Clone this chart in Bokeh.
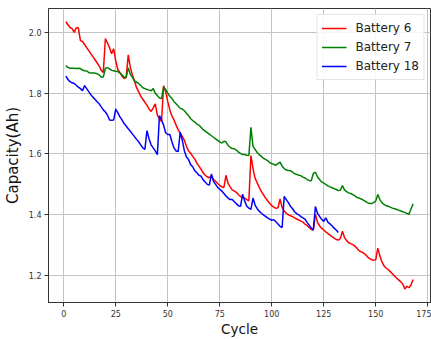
from bokeh.plotting import figure
from bokeh.models import FixedTicker, Legend, LegendItem, Range1d, NumeralTickFormatter
from bokeh.embed import file_html
from bokeh.resources import INLINE

battery6 = [
    2.035, 2.025, 2.016, 2.012, 2.000, 2.015, 2.015, 1.973, 1.970, 1.960,
    1.950, 1.940, 1.930, 1.920, 1.910, 1.900, 1.890, 1.875, 1.868, 1.980,
    1.965, 1.950, 1.930, 1.946, 1.905, 1.878, 1.868, 1.856, 1.848, 1.852,
    1.926, 1.885, 1.860, 1.840, 1.818, 1.805, 1.790, 1.780, 1.770, 1.760,
    1.748, 1.740, 1.752, 1.765, 1.728, 1.715, 1.707, 1.824, 1.805, 1.772,
    1.745, 1.725, 1.712, 1.695, 1.680, 1.668, 1.658, 1.645, 1.625, 1.610,
    1.603, 1.592, 1.583, 1.570, 1.560, 1.550, 1.538, 1.530, 1.525, 1.522,
    1.528, 1.516, 1.510, 1.503, 1.497, 1.492, 1.490, 1.530, 1.503, 1.492,
    1.482, 1.478, 1.474, 1.466, 1.460, 1.457, 1.455, 1.450, 1.446, 1.595,
    1.552, 1.520, 1.505, 1.490, 1.477, 1.466, 1.455, 1.446, 1.438, 1.430,
    1.425, 1.421, 1.423, 1.452, 1.424, 1.412, 1.405, 1.400, 1.397, 1.394,
    1.390, 1.386, 1.383, 1.379, 1.376, 1.369, 1.365, 1.358, 1.352, 1.350,
    1.402, 1.375, 1.364, 1.356, 1.350, 1.344, 1.339, 1.333, 1.328, 1.323,
    1.319, 1.317, 1.322, 1.346, 1.325, 1.315, 1.308, 1.305, 1.302, 1.297,
    1.290, 1.282, 1.278, 1.275, 1.270, 1.262, 1.256, 1.253, 1.250, 1.252,
    1.290, 1.265, 1.245, 1.232, 1.225, 1.220, 1.213, 1.206, 1.199, 1.192,
    1.186, 1.180, 1.172, 1.156, 1.165, 1.160, 1.170, 1.187,
]

battery7 = [
    1.891, 1.885, 1.882, 1.882, 1.882, 1.881, 1.882, 1.881, 1.876, 1.874,
    1.873, 1.868, 1.866, 1.866, 1.866, 1.864, 1.860, 1.853, 1.853, 1.882,
    1.884, 1.880, 1.875, 1.874, 1.872, 1.871, 1.866, 1.860, 1.853, 1.852,
    1.883, 1.862, 1.852, 1.840, 1.836, 1.832, 1.825, 1.818, 1.815, 1.812,
    1.810, 1.808, 1.815, 1.800, 1.792, 1.784, 1.782, 1.820, 1.812, 1.800,
    1.790, 1.783, 1.772, 1.765, 1.758, 1.750, 1.748, 1.742, 1.734, 1.726,
    1.716, 1.710, 1.705, 1.698, 1.695, 1.688, 1.680, 1.675, 1.670, 1.665,
    1.660, 1.655, 1.650, 1.645, 1.640, 1.636, 1.642, 1.640, 1.628, 1.622,
    1.618, 1.617, 1.613, 1.606, 1.602, 1.598, 1.598, 1.596, 1.595, 1.688,
    1.625, 1.615, 1.605, 1.598, 1.592, 1.586, 1.582, 1.578, 1.572, 1.568,
    1.566, 1.563, 1.568, 1.573, 1.560, 1.552, 1.547, 1.546, 1.545, 1.540,
    1.535, 1.533, 1.530, 1.529, 1.524, 1.521, 1.516, 1.513, 1.512, 1.536,
    1.540, 1.525, 1.516, 1.508, 1.504, 1.500, 1.495, 1.492, 1.489, 1.486,
    1.483, 1.480, 1.481, 1.496, 1.482, 1.476, 1.472, 1.470, 1.466, 1.462,
    1.457, 1.455, 1.452, 1.448, 1.444, 1.440, 1.437, 1.437, 1.440, 1.445,
    1.467, 1.450, 1.440, 1.434, 1.430, 1.428, 1.425, 1.422, 1.420, 1.418,
    1.415, 1.413, 1.410, 1.408, 1.404, 1.402, 1.420, 1.436,
]

battery18 = [
    1.856, 1.845, 1.838, 1.834, 1.832, 1.826, 1.820, 1.815, 1.808, 1.825,
    1.815, 1.805, 1.795, 1.787, 1.780, 1.772, 1.765, 1.755, 1.745, 1.738,
    1.728, 1.712, 1.711, 1.712, 1.748, 1.735, 1.722, 1.712, 1.700, 1.692,
    1.683, 1.675, 1.666, 1.657, 1.648, 1.640, 1.630, 1.620, 1.615, 1.677,
    1.650, 1.630, 1.620, 1.610, 1.598, 1.726, 1.712, 1.695, 1.670, 1.664,
    1.664, 1.640, 1.620, 1.610, 1.608, 1.672, 1.645, 1.610, 1.590, 1.582,
    1.565, 1.558, 1.545, 1.538, 1.530, 1.527, 1.515, 1.508, 1.500, 1.498,
    1.534, 1.510, 1.500, 1.490, 1.484, 1.478, 1.470, 1.462, 1.455, 1.450,
    1.450, 1.443, 1.436, 1.430, 1.428, 1.468, 1.445, 1.428, 1.422, 1.418,
    1.455, 1.432, 1.420, 1.412, 1.405, 1.400, 1.395, 1.390, 1.386, 1.382,
    1.384, 1.377, 1.370, 1.362, 1.358, 1.460, 1.450, 1.440, 1.428, 1.420,
    1.410, 1.404, 1.400, 1.394, 1.390, 1.386, 1.375, 1.366, 1.356, 1.350,
    1.427, 1.405, 1.395, 1.385, 1.378, 1.390, 1.376, 1.370, 1.364, 1.356,
    1.350, 1.342,
]

cycles6 = list(range(1, len(battery6) + 1))
cycles7 = list(range(1, len(battery7) + 1))
cycles18 = list(range(1, len(battery18) + 1))

series_names = ["Battery 6", "Battery 7", "Battery 18"]
series_colors = ["#ff0000", "#008000", "#0000ff"]
x_ticks = [0, 25, 50, 75, 100, 125, 150, 175]
y_ticks = [1.2, 1.4, 1.6, 1.8, 2.0]

p = figure(width=431, height=339, output_backend="svg", toolbar_location=None,
           x_range=Range1d(-7.35, 176.35), y_range=Range1d(1.1115, 2.0785),
           min_border_left=48, min_border_right=1, min_border_top=8, min_border_bottom=34)

renderers = []
for xs, ys, col in zip([cycles6, cycles7, cycles18], [battery6, battery7, battery18], series_colors):
    r = p.line(xs, ys, line_color=col, line_width=1.5)
    renderers.append(r)

legend = Legend(items=[LegendItem(label=n, renderers=[r]) for n, r in zip(series_names, renderers)],
                location="top_right", margin=6, padding=4, spacing=1,
                glyph_width=25, glyph_height=18, label_height=18, label_standoff=9,
                label_text_font="DejaVu Sans", label_text_font_size="12px", label_text_color="#222222",
                border_line_color="#cccccc", border_line_width=1,
                background_fill_color="white", background_fill_alpha=0.85)
p.add_layout(legend)

p.outline_line_color = "#333333"
p.outline_line_width = 1
p.background_fill_color = "white"
p.border_fill_color = "white"

p.xaxis.ticker = FixedTicker(ticks=x_ticks)
p.yaxis.ticker = FixedTicker(ticks=y_ticks)
p.yaxis.formatter = NumeralTickFormatter(format="0.0")

for ax in (p.xaxis, p.yaxis):
    ax.axis_line_color = "#333333"
    ax.major_tick_line_color = "#333333"
    ax.major_tick_in = 0
    ax.major_tick_out = 4
    ax.minor_tick_line_color = None
    ax.major_label_text_font = "DejaVu Sans"
    ax.major_label_text_font_size = "8px"
    ax.major_label_text_color = "#333333"
    ax.major_label_standoff = 3
    ax.axis_label_text_font = "DejaVu Sans"
    ax.axis_label_text_font_style = "normal"
    ax.axis_label_text_color = "#111111"

p.xaxis.axis_label = "Cycle"
p.xaxis.axis_label_text_font_size = "13.5px"
p.xaxis.axis_label_standoff = 1
p.yaxis.axis_label = "Capacity(Ah)"
p.yaxis.axis_label_text_font_size = "15px"
p.yaxis.axis_label_standoff = 4

p.xgrid.ticker = FixedTicker(ticks=x_ticks)
p.ygrid.ticker = FixedTicker(ticks=y_ticks)
p.grid.grid_line_color = "#c4c4c4"
p.grid.grid_line_width = 1

open("out.html", "w").write(file_html(p, INLINE))
